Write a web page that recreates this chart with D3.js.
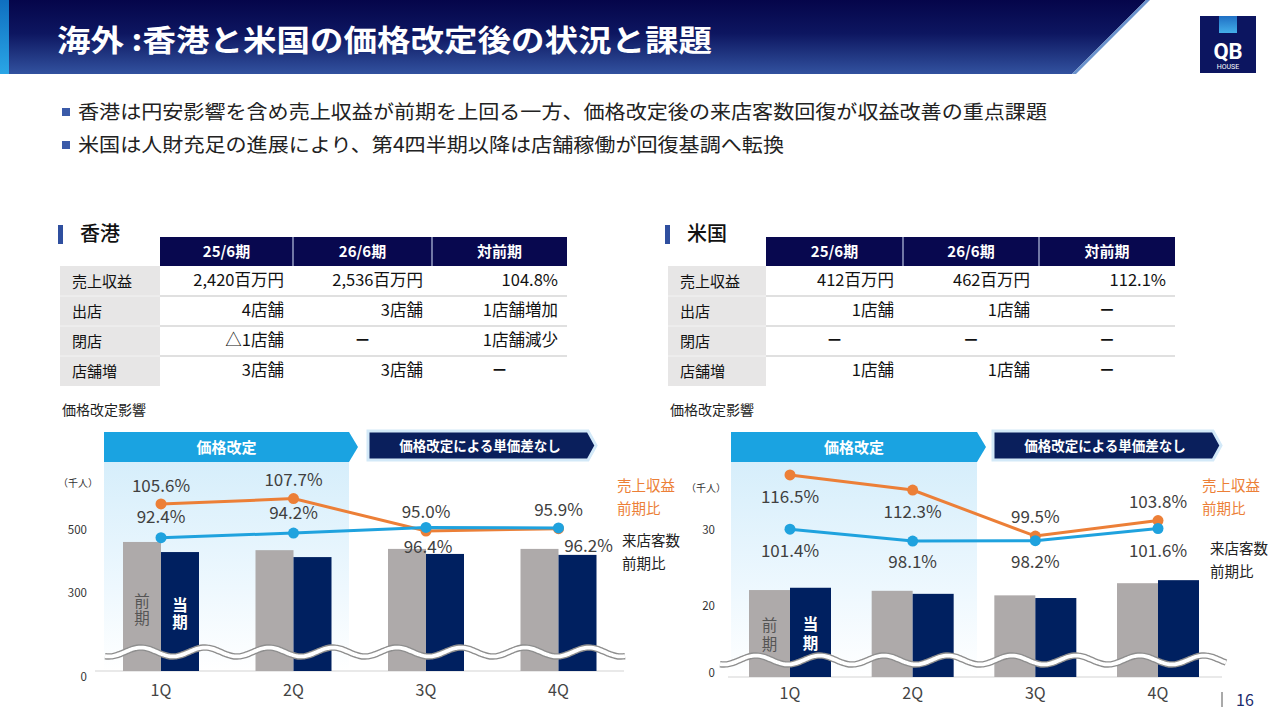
<!DOCTYPE html>
<html><head><meta charset="utf-8">
<script src="https://cdn.jsdelivr.net/npm/d3@7"></script>
<style>
html,body{margin:0;padding:0;background:#fff;}
svg{display:block;font-family:"Noto Sans CJK JP","Noto Sans",sans-serif;}
</style></head>
<body>
<svg id="c" width="1280" height="720"></svg>
<script>
// ---------------- DATA ----------------
const titleText = "海外 :香港と米国の価格改定後の状況と課題";
const bulletTexts = [
  "香港は円安影響を含め売上収益が前期を上回る一方、価格改定後の来店客数回復が収益改善の重点課題",
  "米国は人財充足の進展により、第4四半期以降は店舗稼働が回復基調へ転換"
];
const tableCols = ["25/6期", "26/6期", "対前期"];
const tableRowLabels = ["売上収益", "出店", "閉店", "店舗増"];
const hkTableValues = [
  ["2,420百万円", "2,536百万円", "104.8%"],
  ["4店舗", "3店舗", "1店舗増加"],
  ["△1店舗", "－", "1店舗減少"],
  ["3店舗", "3店舗", "－"]
];
const usTableValues = [
  ["412百万円", "462百万円", "112.1%"],
  ["1店舗", "1店舗", "－"],
  ["－", "－", "－"],
  ["1店舗", "1店舗", "－"]
];
const quarters = ["1Q", "2Q", "3Q", "4Q"];
// Hong Kong visitors (thousand people)
const hkPrev = [462, 436, 440, 440];
const hkCurr = [430, 414, 424, 421];
const hkSalesRatio = [105.6, 107.7, 95.0, 95.9];
const hkVisitRatio = [92.4, 94.2, 96.4, 96.2];
const hkTicks = [0, 300, 500];
// US visitors (thousand people)
const usPrev = [22.1, 22.0, 21.4, 23.0];
const usCurr = [22.4, 21.6, 21.05, 23.4];
const usSalesRatio = [116.5, 112.3, 99.5, 103.8];
const usVisitRatio = [101.4, 98.1, 98.2, 101.6];
const usTicks = [0, 20, 30];

const phaseLabels = ["価格改定", "価格改定による単価差なし"];
const barTags = ["前期", "当期"];
const legendSales = ["売上収益", "前期比"];
const legendVisit = ["来店客数", "前期比"];

// ---------------- STYLE ----------------
const C = {
  orange: "#ec7f37", blue: "#1fa2de", gray: "#aeaaaa", navy: "#002060",
  thead: "#08084f", text: "#222", label: "#404040", lightBlue: "#1aa3e1"
};

const svg = d3.select("#c");
const defs = svg.append("defs");

// gradients
const hg = defs.append("linearGradient").attr("id", "hg").attr("x1", 0).attr("y1", 0).attr("x2", 0).attr("y2", 1);
hg.append("stop").attr("offset", "0%").attr("stop-color", "#05054a");
hg.append("stop").attr("offset", "45%").attr("stop-color", "#0d1660");
hg.append("stop").attr("offset", "100%").attr("stop-color", "#32529f");
const sg = defs.append("linearGradient").attr("id", "sg").attr("x1", 0).attr("y1", 0).attr("x2", 0).attr("y2", 1);
sg.append("stop").attr("offset", "0%").attr("stop-color", "#0f6fc0");
sg.append("stop").attr("offset", "100%").attr("stop-color", "#2aa6e6");
const pg = defs.append("linearGradient").attr("id", "pg").attr("x1", 0).attr("y1", 0).attr("x2", 0).attr("y2", 1);
pg.append("stop").attr("offset", "0%").attr("stop-color", "#d6eefb");
pg.append("stop").attr("offset", "60%").attr("stop-color", "#eef8fe");
pg.append("stop").attr("offset", "100%").attr("stop-color", "#ffffff");
const lg = defs.append("linearGradient").attr("id", "lg").attr("x1", 0).attr("y1", 0).attr("x2", 0).attr("y2", 1);
lg.append("stop").attr("offset", "0%").attr("stop-color", "#1f6fc4");
lg.append("stop").attr("offset", "100%").attr("stop-color", "#44aee9");

// ---------------- HEADER ----------------
svg.append("path").attr("d", "M0,0 L1146,0 L1072,74 L0,74 Z").attr("fill", "url(#hg)");
svg.append("path").attr("d", "M1146,0 L1150,0 L1076,74 L1072,74 Z").attr("fill", "#6a92cc");
svg.append("rect").attr("x", 0).attr("y", 0).attr("width", 9).attr("height", 74).attr("fill", "url(#sg)");
svg.append("text").attr("x", 57).attr("y", 51).text(titleText)
  .attr("fill", "#fff").attr("font-size", 30).attr("font-weight", 700)
  .attr("textLength", 655).attr("lengthAdjust", "spacingAndGlyphs");

// logo
svg.append("rect").attr("x", 1200).attr("y", 16).attr("width", 56).attr("height", 57).attr("fill", "#0c1560");
svg.append("rect").attr("x", 1219).attr("y", 16).attr("width", 18).attr("height", 17).attr("fill", "url(#lg)");
svg.append("text").attr("x", 1228).attr("y", 59).attr("text-anchor", "middle").text("QB")
  .attr("fill", "#fff").attr("font-size", 22).attr("font-weight", 700).attr("font-family", "Roboto, sans-serif");
svg.append("text").attr("x", 1228).attr("y", 69).attr("text-anchor", "middle").text("HOUSE")
  .attr("fill", "#fff").attr("font-size", 7).attr("font-family", "Roboto, sans-serif");

// bullets
const bulletLen = [969, 706];
bulletTexts.forEach((t, i) => {
  const cy = 112 + i * 33;
  svg.append("rect").attr("x", 62).attr("y", cy - 4).attr("width", 8).attr("height", 8).attr("fill", "#3a5aa8");
  svg.append("text").attr("x", 78).attr("y", cy + 7).text(t)
    .attr("fill", C.text).attr("font-size", 19.5)
    .attr("textLength", bulletLen[i]).attr("lengthAdjust", "spacingAndGlyphs");
});

// ---------------- TABLES ----------------
function drawTable(o) {
  const g = svg.append("g");
  g.append("rect").attr("x", o.barX).attr("y", 225).attr("width", 5).attr("height", 19).attr("fill", "#2f4f9f");
  g.append("text").attr("x", o.barX + 22).attr("y", 241).text(o.title)
    .attr("font-size", 20).attr("font-weight", 500).attr("fill", "#111");
  const cx = o.colX;
  g.append("rect").attr("x", cx[0]).attr("y", 237).attr("width", cx[3] - cx[0]).attr("height", 29).attr("fill", C.thead);
  [1, 2].forEach(k => g.append("line").attr("x1", cx[k]).attr("x2", cx[k]).attr("y1", 237).attr("y2", 266)
    .attr("stroke", "#b8c2e0").attr("stroke-width", 1.2));
  tableCols.forEach((t, k) => g.append("text").attr("x", (cx[k] + cx[k + 1]) / 2).attr("y", 257)
    .attr("text-anchor", "middle").text(t).attr("fill", "#fff").attr("font-size", 15).attr("font-weight", 700));
  g.append("rect").attr("x", o.labelX).attr("y", 266).attr("width", cx[0] - o.labelX).attr("height", 120).attr("fill", "#e7e6e6");
  tableRowLabels.forEach((t, r) => {
    const y0 = 266 + r * 30;
    if (r > 0) {
      g.append("line").attr("x1", cx[0]).attr("x2", cx[3]).attr("y1", y0).attr("y2", y0)
        .attr("stroke", "#d6d6d6").attr("stroke-width", 1.5);
      g.append("line").attr("x1", o.labelX).attr("x2", cx[0]).attr("y1", y0).attr("y2", y0)
        .attr("stroke", "#f3f3f3").attr("stroke-width", 1);
    }
    g.append("text").attr("x", o.labelX + 12).attr("y", y0 + 21).text(t).attr("font-size", 15).attr("fill", "#111");
    o.values[r].forEach((v, k) => {
      const isDash = v === "－";
      g.append("text")
        .attr("x", isDash ? (cx[k] + cx[k + 1]) / 2 : cx[k + 1] - 9)
        .attr("y", y0 + 20)
        .attr("text-anchor", isDash ? "middle" : "end")
        .text(v).attr("font-size", 16.5).attr("fill", "#111")
        .attr("font-weight", isDash ? 700 : 400);
    });
  });
  g.append("text").attr("x", o.labelX + 2).attr("y", 415).text("価格改定影響").attr("font-size", 14).attr("fill", "#222");
}
drawTable({ title: "香港", barX: 58, labelX: 60, colX: [160, 293, 432, 567], values: hkTableValues });
drawTable({ title: "米国", barX: 665, labelX: 668, colX: [766, 903, 1039, 1175], values: usTableValues });

// ---------------- CHARTS ----------------
function arrowPath(x0, x1, tip, y0, y1) {
  return `M${x0},${y0} L${x1},${y0} L${tip},${(y0 + y1) / 2} L${x1},${y1} L${x0},${y1} Z`;
}
function drawChart(o) {
  const g = svg.append("g");
  const x = d3.scalePoint().domain(quarters).range(o.centers);
  const y = d3.scaleLinear().domain(o.yDomain).range(o.yRange);
  const r = d3.scaleLinear().domain(o.rDomain).range(o.rRange);
  const bw = o.bw;
  const base = y(0);

  // panel & phase arrows
  g.append("rect").attr("x", o.panel[0]).attr("y", 462).attr("width", o.panel[1] - o.panel[0])
    .attr("height", base - 462).attr("fill", "url(#pg)");
  g.append("path").attr("d", arrowPath(o.panel[0], o.panel[1], o.panel[1] + 9, 432, 462)).attr("fill", C.lightBlue);
  g.append("text").attr("x", (o.panel[0] + o.panel[1]) / 2).attr("y", 453).attr("text-anchor", "middle")
    .text(phaseLabels[0]).attr("fill", "#fff").attr("font-size", 15).attr("font-weight", 700);
  g.append("path").attr("d", arrowPath(o.arrow2[0], o.arrow2[1], o.arrow2[1] + 8, 431, 460))
    .attr("fill", "#0a1f5c").attr("stroke", "#d3e9f8").attr("stroke-width", 3).attr("stroke-linejoin", "miter");
  g.append("text").attr("x", (o.arrow2[0] + o.arrow2[1]) / 2 + 2).attr("y", 451).attr("text-anchor", "middle")
    .text(phaseLabels[1]).attr("fill", "#fff").attr("font-size", 13.5).attr("font-weight", 700);

  // baseline
  g.append("line").attr("x1", o.baseX[0]).attr("x2", o.baseX[1]).attr("y1", base).attr("y2", base)
    .attr("stroke", "#e2e2e2").attr("stroke-width", 1.5);

  // y tick labels
  g.selectAll(".tk").data(o.ticks).enter().append("text")
    .attr("x", o.tickX).attr("y", d => y(d) + 4 + (d === 0 ? o.zeroDy : 0))
    .attr("text-anchor", "end").text(d => d).attr("font-size", 11.5).attr("fill", "#333");
  g.append("text").attr("x", o.unitX).attr("y", o.unitY).text("（千人）").attr("font-size", 10).attr("fill", "#333");

  // bars
  g.selectAll(".bp").data(o.prev).enter().append("rect")
    .attr("x", (d, i) => x(quarters[i]) - bw).attr("width", bw)
    .attr("y", d => y(d)).attr("height", d => base - y(d)).attr("fill", C.gray);
  g.selectAll(".bc").data(o.curr).enter().append("rect")
    .attr("x", (d, i) => x(quarters[i])).attr("width", bw)
    .attr("y", d => y(d)).attr("height", d => base - y(d)).attr("fill", C.navy);

  // vertical tags on first pair of bars (single vertical text each)
  const c0 = x(quarters[0]);
  barTags.forEach((tag, k) => {
    g.append("text")
      .attr("x", k === 0 ? c0 - bw / 2 : c0 + bw / 2)
      .attr("y", o.tagY[k])
      .style("writing-mode", "vertical-rl")
      .attr("letter-spacing", o.tagSpacing)
      .attr("font-size", 15.5)
      .attr("fill", k === 0 ? "#555" : "#fff")
      .attr("font-weight", k === 0 ? 400 : 700)
      .text(tag);
  });

  // wave break
  const pts = d3.range(o.waveX[0], o.waveX[1] + 1, 2).map(px => [px, o.waveY + 4.5 * Math.sin((px - o.waveX[0]) / 64 * 2 * Math.PI + 1.2)]);
  const wl = d3.line().curve(d3.curveBasis);
  g.append("path").attr("d", wl(pts)).attr("fill", "none").attr("stroke", "#8e8e8e").attr("stroke-width", 6.5);
  g.append("path").attr("d", wl(pts)).attr("fill", "none").attr("stroke", "#fff").attr("stroke-width", 3.8);

  // category labels
  g.selectAll(".ql").data(quarters).enter().append("text")
    .attr("x", d => x(d)).attr("y", o.catY).attr("text-anchor", "middle").text(d => d)
    .attr("font-size", 16).attr("fill", "#444");

  // ratio lines
  const line = d3.line().x((d, i) => x(quarters[i])).y(d => r(d));
  [[o.sales, C.orange], [o.visit, C.blue]].forEach(([data, col]) => {
    g.append("path").attr("d", line(data)).attr("fill", "none").attr("stroke", col).attr("stroke-width", 3);
    g.selectAll(null).data(data).enter().append("circle")
      .attr("cx", (d, i) => x(quarters[i])).attr("cy", d => r(d)).attr("r", 5.5).attr("fill", col);
  });
  const fmt = d => d.toFixed(1) + "%";
  g.selectAll(null).data(o.sales).enter().append("text")
    .attr("x", (d, i) => x(quarters[i]) + o.salesDx[i]).attr("y", (d, i) => r(d) + o.salesDy[i] + 6)
    .attr("text-anchor", "middle").text(fmt).attr("font-size", 17).attr("fill", C.label);
  g.selectAll(null).data(o.visit).enter().append("text")
    .attr("x", (d, i) => x(quarters[i]) + o.visitDx[i]).attr("y", (d, i) => r(d) + o.visitDy[i] + 6)
    .attr("text-anchor", "middle").text(fmt).attr("font-size", 17).attr("fill", C.label);

  // legends
  legendSales.forEach((t, k) => g.append("text").attr("x", o.legS[0]).attr("y", o.legS[1] + k * 23 + 5)
    .text(t).attr("font-size", 14.5).attr("fill", C.orange));
  legendVisit.forEach((t, k) => g.append("text").attr("x", o.legV[0]).attr("y", o.legV[1] + k * 23 + 5)
    .text(t).attr("font-size", 14.5).attr("fill", "#222"));
}

drawChart({
  prev: hkPrev, curr: hkCurr, sales: hkSalesRatio, visit: hkVisitRatio, ticks: hkTicks,
  yDomain: [0, 300, 500], yRange: [671, 593, 530],
  rDomain: [90, 110], rRange: [543.75, 492.75],
  centers: [161, 558.5], bw: 38,
  panel: [104, 349], arrow2: [368, 588],
  baseX: [95, 624], tickX: 87, zeroDy: 6, unitX: 58, unitY: 487,
  tagY: [593, 597], tagSpacing: 2,
  waveX: [105, 626], waveY: 652, catY: 696,
  salesDy: [-18, -19, -19, -19], salesDx: [0, 0, 0, 0],
  visitDy: [-21, -20, 20, 18], visitDx: [0, 0, 2, 30],
  legS: [617, 486], legV: [622, 541]
});
drawChart({
  prev: usPrev, curr: usCurr, sales: usSalesRatio, visit: usVisitRatio, ticks: usTicks,
  yDomain: [0, 20, 30], yRange: [677, 606, 530],
  rDomain: [95, 120], rRange: [552.2, 462.4],
  centers: [790, 1158], bw: 41,
  panel: [731, 977], arrow2: [993, 1213],
  baseX: [728, 1222], tickX: 715, zeroDy: -4, unitX: 686, unitY: 492,
  tagY: [617, 616], tagSpacing: 3.5,
  waveX: [720, 1226], waveY: 660, catY: 699,
  salesDy: [22, 22, -19, -19], salesDx: [0, 0, 0, 0],
  visitDy: [22, 21, 21, 23], visitDx: [0, 0, 0, 0],
  legS: [1202, 486], legV: [1210, 549]
});

// page number
svg.append("line").attr("x1", 1222).attr("x2", 1222).attr("y1", 692).attr("y2", 707).attr("stroke", "#555").attr("stroke-width", 1);
svg.append("text").attr("x", 1236).attr("y", 706).text("16").attr("font-size", 16).attr("fill", "#1a2a6c");
</script>
</body></html>
